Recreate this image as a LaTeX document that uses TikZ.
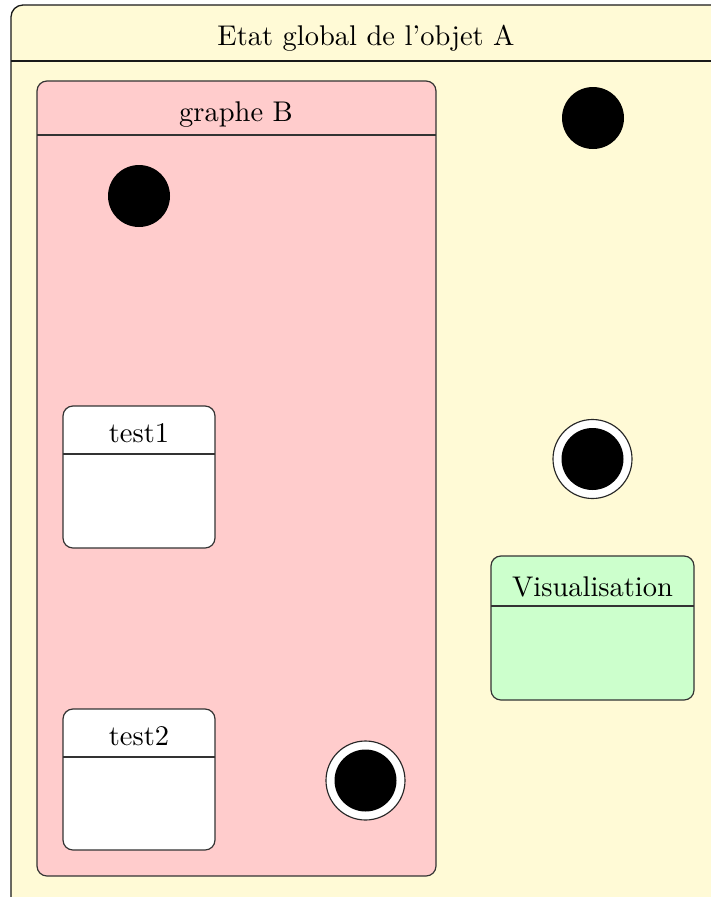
\documentclass[tikz,border=0pt]{standalone}
\begin{document}
\begin{tikzpicture}[x=0.351pt,y=-0.351pt,
  statebox/.style={draw=black!80, line width=0.42pt, rounded corners=3.5pt, inner sep=0pt, outer sep=0pt, anchor=north west, rectangle},
  outerbox/.style={draw=black!90, line width=0.45pt, rounded corners=4.2pt},
  sep/.style={draw=black!80, line width=0.42pt},
  title/.style={anchor=base, inner sep=0pt},
  initst/.style={circle, fill=black, inner sep=0pt, minimum size={62*0.351pt}},
  finalst/.style={circle, draw=black!85, fill=white, line width=0.4pt, inner sep=0pt, minimum size={79*0.351pt}},
]
\definecolor{ylw}{RGB}{255,250,214}
\definecolor{pnk}{RGB}{255,204,204}
\definecolor{grn}{RGB}{204,255,204}
\useasboundingbox (0,0) rectangle (710,897);
% outer state
\coordinate (Anw) at (11,5);
\coordinate (Ase) at (780,920);
\path[outerbox, fill=ylw] (Anw) rectangle (Ase);
\coordinate (Ahl) at (11,61);
\coordinate (Ahr) at (780,61);
\draw[sep, draw=black!90] (Ahl) -- (Ahr);
\node[title] (Atitle) at (366,45.5) {Etat global de l'objet A};
% graphe B
\node[statebox, fill=pnk, minimum width={399*0.351pt}, minimum height={795*0.351pt}] (B) at (37,81) {};
\draw[sep] (B.west |- 0,135) -- (B.east |- 0,135);
\node[title] (Btitle) at (236,121) {graphe B};
\node[initst] (Binit) at (139,196) {};
% test1
\node[statebox, fill=white, minimum width={152*0.351pt}, minimum height={142*0.351pt}] (t1) at (63,406) {};
\draw[sep] (t1.west |- 0,454) -- (t1.east |- 0,454);
\node[title] (t1title) at (139,442) {test1};
% test2
\node[statebox, fill=white, minimum width={152*0.351pt}, minimum height={141*0.351pt}] (t2) at (63,709) {};
\draw[sep] (t2.west |- 0,757) -- (t2.east |- 0,757);
\node[title] (t2title) at (139,745) {test2};
% final in B
\node[finalst] (Bfinal) at (365.5,780.5) {};
\node[initst] (Bfinalin) at (Bfinal) {};
% right side
\node[initst] (Ainit) at (593,118) {};
\node[finalst] (Afinal) at (592.5,459) {};
\node[initst] (Afinalin) at (Afinal) {};
% Visualisation
\node[statebox, fill=grn, minimum width={203*0.351pt}, minimum height={144*0.351pt}] (V) at (491,556) {};
\draw[sep] (V.west |- 0,606) -- (V.east |- 0,606);
\node[title] (Vtitle) at (592.5,596) {Visualisation};
\end{tikzpicture}
\end{document}
